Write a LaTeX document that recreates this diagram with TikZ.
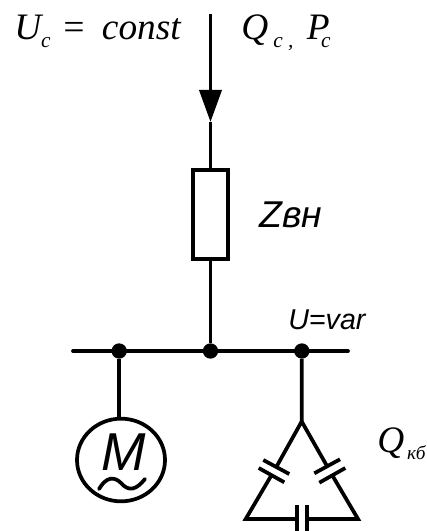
\documentclass[tikz,border=0pt]{standalone}
\usepackage{fontspec}
\setmainfont{Liberation Serif}
\setsansfont{Liberation Sans}
\usetikzlibrary{positioning,arrows.meta,shapes.geometric,calc}

\tikzset{
  wire/.style={line width=2.8pt},
  zload/.style={draw, line width=2.8pt, minimum width=26.5pt, minimum height=66.5pt, inner sep=0pt},
  busdot/.style={circle, fill=black, minimum size=11.5pt, inner sep=0pt},
  motor/.style={draw, ellipse, line width=2.8pt, minimum width=66pt, minimum height=62pt, inner sep=0pt},
  serifitem/.style={inner sep=0pt, font=\fontsize{28}{28}\selectfont\itshape},
  sansitem/.style={inner sep=0pt, font=\sffamily\itshape}
}
\newcommand{\lowsub}[2][16]{\raisebox{-0.2em}{\fontsize{#1}{#1}\selectfont #2}}

\begin{document}
\begin{tikzpicture}[x=0.75pt, y=-0.75pt]
  \useasboundingbox (0,0) rectangle (427,531);

  % Feeder
  \coordinate (top) at (210.5,14);
  \coordinate (tip) at (210.5,122);
  \node[zload] (zvn) at (210.5,214.5) {};

  % Bus
  \node[busdot] (busmid) at (210.5,351) {};
  \node[busdot, on grid, left=68.5pt of busmid] (busm) {};
  \node[busdot, on grid, right=68.5pt of busmid] (busc) {};
  \coordinate (busl) at (73,351);
  \coordinate (busr) at (348,351);

  % Motor
  \node[motor] (mot) at (121,460) {};
  \node[sansitem, font=\fontsize{40}{40}\selectfont\sffamily\itshape] (motname) at (124,452) {M};

  % Capacitor delta
  \coordinate (capa) at (301.7,421.5);
  \coordinate (capl) at (245.7,519);
  \coordinate (capr) at (358,519);
  \coordinate (la1) at (263.3,460);
  \coordinate (la2) at (289.3,474);
  \coordinate (lb1) at (258.7,468);
  \coordinate (lb2) at (284.3,482.3);
  \coordinate (ra1) at (314.3,473.3);
  \coordinate (ra2) at (340,459.3);
  \coordinate (rb1) at (319.3,482.7);
  \coordinate (rb2) at (345.3,468);
  \coordinate (ba1) at (297.3,505);
  \coordinate (ba2) at (297.3,533);
  \coordinate (bb1) at (306.7,505);
  \coordinate (bb2) at (306.7,533);

  % Labels
  \node[serifitem, anchor=base west] (uc) at (14,40) {U\lowsub{c}\hspace{0.28em}=\hspace{0.42em}const};
  \node[serifitem, anchor=base west] (qp) at (241,40) {Q\hspace{0.14em}\lowsub{c}\hspace{0.14em}\lowsub{,}\hspace{0.36em}P\lowsub{\hspace{-0.4em}c}};
  \node[sansitem, font=\fontsize{28}{28}\selectfont\sffamily\itshape, anchor=base west] (zname) at (259,227) {Zвн};
  \node[sansitem, font=\fontsize{21.5}{21.5}\selectfont\sffamily\itshape, anchor=base west] (uvar) at (288,329) {U=var};
  \node[serifitem, anchor=base west] (qkb) at (377,452) {Q\hspace{0.08em}\lowsub[14.5]{кб}};

  % Connectors
  \draw[wire, -{Triangle[length=24pt,width=16.5pt]}] (top) -- (tip);
  \draw[wire] (tip) -- (zvn.north);
  \draw[wire] (zvn.south) -- (busmid);
  \draw[wire, line cap=round] (busl) -- (busr);
  \draw[wire] (busm) -- (mot.north -| busm);
  \draw[wire] (busc) -- (capa);

  % Motor wave
  \draw[wire, line cap=round] (99,489) .. controls (106,477) and (114,476) .. (121,483) .. controls (129,492) and (136,490) .. (145,479);

  % Delta branches
  \draw[wire, line join=miter] ($(la1)!0.5!(la2)$) -- (capa) -- ($(ra1)!0.5!(ra2)$);
  \draw[wire, line join=miter] ($(lb1)!0.5!(lb2)$) -- (capl) -- (ba1 |- capl);
  \draw[wire, line join=miter] ($(rb1)!0.5!(rb2)$) -- (capr) -- (bb1 |- capr);
  \draw[wire] (la1) -- (la2);
  \draw[wire] (lb1) -- (lb2);
  \draw[wire] (ra1) -- (ra2);
  \draw[wire] (rb1) -- (rb2);
  \draw[wire] (ba1) -- (ba2);
  \draw[wire] (bb1) -- (bb2);
\end{tikzpicture}
\end{document}
